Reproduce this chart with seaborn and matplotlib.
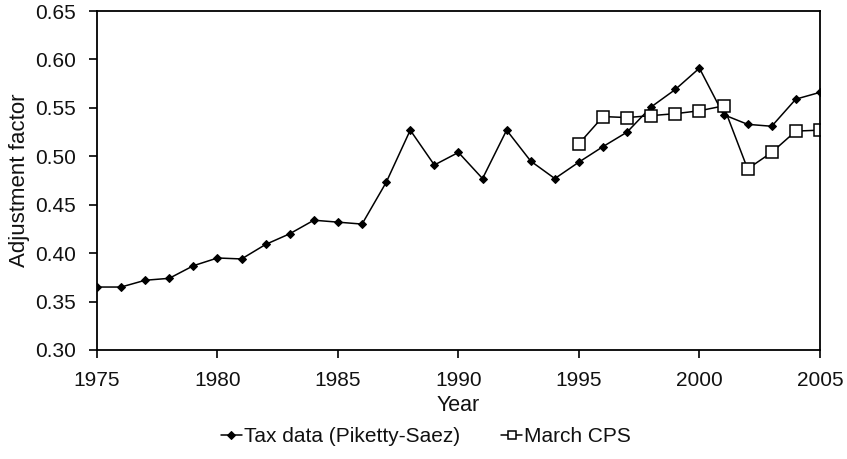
import numpy as np
import pandas as pd
import seaborn as sns
import matplotlib.pyplot as plt
from matplotlib.ticker import FormatStrFormatter

# values
tax_years = list(range(1975, 2006))
tax_values = [0.365, 0.365, 0.372, 0.374, 0.387, 0.395, 0.394, 0.409, 0.420, 0.434,
              0.432, 0.430, 0.473, 0.527, 0.491, 0.504, 0.477, 0.527, 0.495, 0.477,
              0.494, 0.510, 0.525, 0.551, 0.569, 0.591, 0.543, 0.533, 0.531, 0.559,
              0.566]
cps_years = list(range(1995, 2006))
cps_values = [0.513, 0.541, 0.540, 0.542, 0.544, 0.547, 0.552, 0.487, 0.504, 0.526, 0.527]

tax_label = "Tax data (Piketty-Saez)"
cps_label = "March CPS"

sns.set_style("ticks")
plt.rcParams['font.family'] = ['Liberation Sans', 'DejaVu Sans']

df_tax = pd.DataFrame({"Year": tax_years, "Adjustment factor": tax_values})
df_cps = pd.DataFrame({"Year": cps_years, "Adjustment factor": cps_values})

fig, ax = plt.subplots(figsize=(8.47, 4.59), dpi=100)
fig.subplots_adjust(left=0.1145, right=0.968, top=0.976, bottom=0.2375)

sns.lineplot(data=df_tax, x="Year", y="Adjustment factor", ax=ax, color="black",
             linewidth=1.1, marker="D", markersize=4.5, markeredgecolor="black",
             markerfacecolor="black", label=tax_label)
sns.lineplot(data=df_cps, x="Year", y="Adjustment factor", ax=ax, color="black",
             linewidth=1.1, marker="s", markersize=8, markeredgecolor="black",
             markeredgewidth=1.1, markerfacecolor="white", label=cps_label)

ax.set_xlim(1975, 2005)
ax.set_ylim(0.30, 0.65)
ax.set_xticks(range(1975, 2006, 5))
ax.set_yticks(np.arange(0.30, 0.651, 0.05))
ax.yaxis.set_major_formatter(FormatStrFormatter("%.2f"))
ax.tick_params(labelsize=15, length=6, width=1.2, color="black", labelcolor="#111111")
ax.tick_params(axis="x", pad=9)
ax.tick_params(axis="y", pad=9)
for s in ax.spines.values():
    s.set_color("black")
    s.set_linewidth(1.3)

ax.set_xlabel("Year", fontsize=15.5, labelpad=4, color="#111111")
ax.set_ylabel("Adjustment factor", fontsize=16, labelpad=4, color="#111111")

# legend centred on the figure, below the axis title
handles, labels = ax.get_legend_handles_labels()
ax.get_legend().remove()
leg = fig.legend(handles, labels, loc="center", bbox_to_anchor=(0.503, 0.048), ncol=2,
                 frameon=False, fontsize=15, handlelength=1.0, handletextpad=0.1,
                 columnspacing=2.0, markerscale=0.8)
for t in leg.get_texts():
    t.set_color("#111111")

fig.savefig("out.png", dpi=100)
